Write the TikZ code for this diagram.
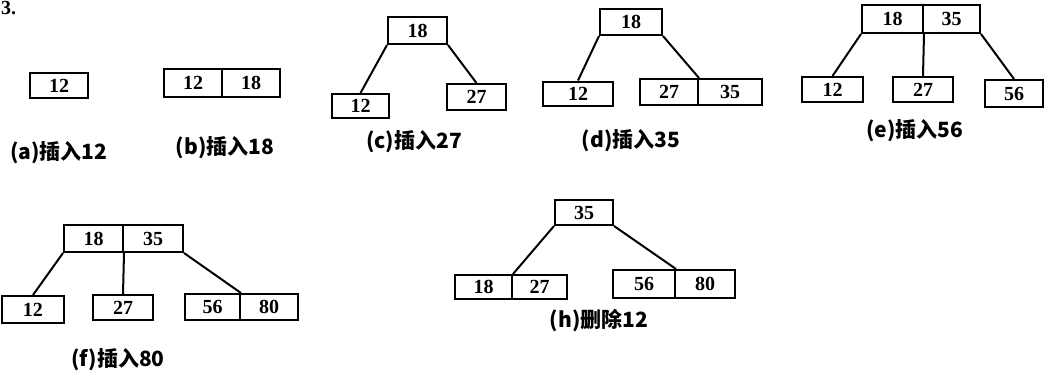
\documentclass[tikz,border=0pt]{standalone}
\usepackage{fontspec}
\setmainfont{Liberation Serif}
\newfontfamily\cjk{Noto Sans CJK SC}
\begin{document}
\begin{tikzpicture}[x=1pt,y=-1pt,
  key/.style={draw,line width=2pt,inner sep=0pt,minimum height=25pt,minimum width=58pt,font=\fontsize{20}{20}\selectfont\bfseries},
  caption/.style={font=\cjk\bfseries\fontsize{21}{21}\selectfont,inner sep=0pt},
  link/.style={line width=2pt}]
\useasboundingbox (0,0) rectangle (1045,376);
\node[font=\fontsize{20}{20}\selectfont\bfseries,anchor=west,inner sep=0pt] (num) at (1,8) {3.};
% (a)
\node[key] (a1) at (59,85.5) {12};
\node[caption] (la) at (59,153) {(a)插入12};
% (b)
\node[key,minimum height=28pt] (b1) at (193,82.5) {12};
\node[key,minimum height=28pt] (b2) at (251,82.5) {18};
\node[caption] (lb) at (225,148) {(b)插入18};
% (c)
\node[key,minimum width=59pt,minimum height=27pt] (cr) at (417.5,30.5) {18};
\node[key,minimum width=57pt,minimum height=24pt] (c1) at (360.5,106) {12};
\node[key,minimum width=59pt,minimum height=26pt] (c2) at (476.5,97) {27};
\draw[link] (cr.south west) -- (c1.north);
\draw[link] (cr.south east) -- (c2.north);
\node[caption] (lc) at (414,142) {(c)插入27};
% (d)
\node[key,minimum width=62pt,minimum height=26pt] (dr) at (631,22) {18};
\node[key,minimum width=70pt,minimum height=24pt] (d1) at (578,93.5) {12};
\node[key,minimum width=58pt,minimum height=26pt] (d2) at (669,92) {27};
\node[key,minimum width=64pt,minimum height=26pt] (d3) at (730,92) {35};
\draw[link] (dr.south west) -- (d1.north);
\draw[link] (dr.south east) -- (d2.north east);
\node[caption] (ld) at (631,141) {(d)插入35};
% (e)
\node[key,minimum width=61pt,minimum height=28pt] (er1) at (892.5,19) {18};
\node[key,minimum width=57pt,minimum height=28pt] (er2) at (951.5,19) {35};
\node[key,minimum width=61pt] (e1) at (832.5,89.5) {12};
\node[key,minimum width=60pt] (e2) at (923,89.5) {27};
\node[key,minimum width=58pt,minimum height=27pt] (e3) at (1014,93.5) {56};
\draw[link] (er1.south west) -- (e1.north);
\draw[link] (er1.south east) -- (e2.north);
\draw[link] (er2.south east) -- (e3.north);
\node[caption] (le) at (915,131) {(e)插入56};
% (f)
\node[key,minimum width=59pt,minimum height=27pt] (fr1) at (93.5,238.5) {18};
\node[key,minimum width=60pt,minimum height=27pt] (fr2) at (153,238.5) {35};
\node[key,minimum width=62pt,minimum height=27pt] (f1) at (33,309.5) {12};
\node[key,minimum width=60pt] (f2) at (123,307.5) {27};
\node[key,minimum width=55pt,minimum height=26pt] (f3) at (212.5,307) {56};
\node[key,minimum width=58pt,minimum height=26pt] (f4) at (269,307) {80};
\draw[link] (fr1.south west) -- (f1.north);
\draw[link] (fr1.south east) -- (f2.north);
\draw[link] (fr2.south east) -- (f3.north east);
\node[caption] (lf) at (118,360) {(f)插入80};
% (h)
\node[key,minimum width=58pt] (hr) at (584,212.5) {35};
\node[key,minimum width=57pt,minimum height=24pt] (h1) at (483.5,287) {18};
\node[key,minimum width=55pt,minimum height=24pt] (h2) at (539.5,287) {27};
\node[key,minimum width=62pt,minimum height=28pt] (h3) at (644,284) {56};
\node[key,minimum width=60pt,minimum height=28pt] (h4) at (705,284) {80};
\draw[link] (hr.south west) -- (h1.north east);
\draw[link] (hr.south east) -- (h3.north east);
\node[caption] (lh) at (599,321) {(h)删除12};
\end{tikzpicture}
\end{document}
